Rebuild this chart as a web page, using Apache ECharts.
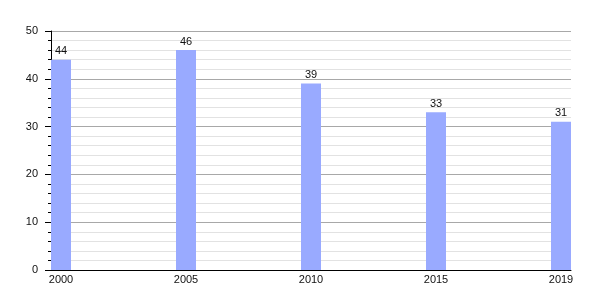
<!DOCTYPE html>
<html><head><meta charset="utf-8">
<script src="https://cdn.jsdelivr.net/npm/echarts@6/dist/echarts.min.js"></script>
<style>html,body{margin:0;padding:0;background:#fff}#c{width:600px;height:300px}</style>
</head><body><div id="c"></div>
<script>
const years = ['2000', '2005', '2010', '2015', '2019'];
const values = [44, 46, 39, 33, 31];
const yTicks = [0, 10, 20, 30, 40, 50];

const chart = echarts.init(document.getElementById('c'), null, {renderer: 'canvas'});
const positions = years.map((y, i) => i);
chart.setOption({
  animation: false,
  grid: {left: 51, right: 29, top: 31, bottom: 30, containLabel: false},
  xAxis: {
    type: 'value', min: -0.08, max: 4.08,
    axisLine: {show: true, onZero: false, lineStyle: {color: '#000', width: 1}},
    axisTick: {show: false},
    splitLine: {show: false},
    axisLabel: {
      customValues: positions,
      formatter: v => years[Math.round(v)] || '',
      color: '#111', fontSize: 11, fontFamily: 'Liberation Sans, Arial, sans-serif', margin: 4
    }
  },
  yAxis: {
    type: 'value', min: yTicks[0], max: yTicks[yTicks.length - 1], interval: 10,
    axisLine: {show: true, onZero: false, lineStyle: {color: '#000', width: 1}},
    axisTick: {show: true, length: 6, lineStyle: {color: '#000'}},
    minorTick: {show: true, splitNumber: 5, length: 3, lineStyle: {color: '#000'}},
    splitLine: {show: true, lineStyle: {color: '#a8a8a8', width: 1}},
    minorSplitLine: {show: true, lineStyle: {color: '#e2e2e2', width: 1}},
    axisLabel: {color: '#111', fontSize: 11, fontFamily: 'Liberation Sans, Arial, sans-serif', margin: 13}
  },
  series: [{
    type: 'bar',
    data: values.map((v, i) => [positions[i], v]),
    barWidth: 20,
    itemStyle: {color: '#99aaff'},
    label: {show: true, position: 'top', distance: 3, color: '#111', fontSize: 11, fontFamily: 'Liberation Sans, Arial, sans-serif'}
  }]
});
</script></body></html>
